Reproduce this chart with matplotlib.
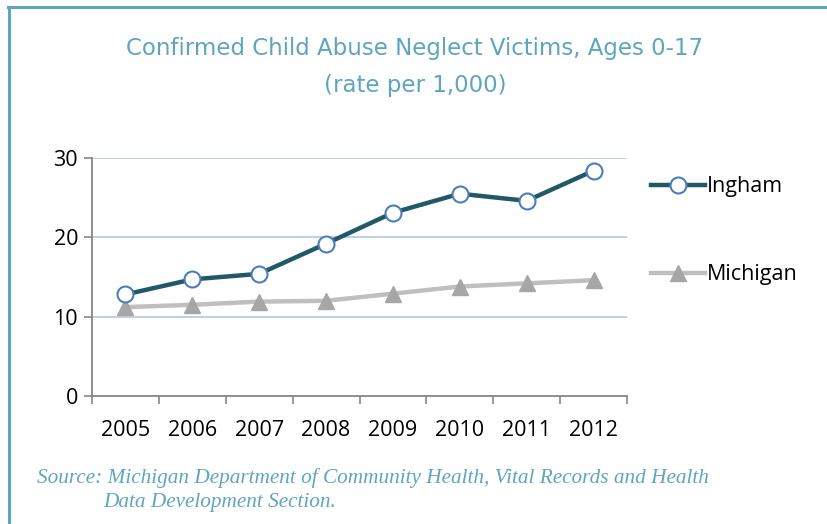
import matplotlib
matplotlib.use("Agg")
import matplotlib.pyplot as plt
from matplotlib.lines import Line2D

years = ["2005", "2006", "2007", "2008", "2009", "2010", "2011", "2012"]
ingham = [12.8, 14.7, 15.4, 19.2, 23.1, 25.5, 24.6, 28.4]
michigan = [11.2, 11.5, 11.9, 12.0, 12.9, 13.8, 14.2, 14.6]
yticks = [0, 10, 20, 30]

title = "Confirmed Child Abuse Neglect Victims, Ages 0-17\n(rate per 1,000)"
source1 = "Source: Michigan Department of Community Health, Vital Records and Health"
source2 = "Data Development Section."

W, H = 827, 524
fig = plt.figure(figsize=(W / 100, H / 100), dpi=100)
fig.patch.set_facecolor("white")

accent = "#5fa5c0"
# frame lines (top and left)
fig.add_artist(Line2D([8 / W, 1], [1 - 7 / H, 1 - 7 / H], color=accent, lw=2.2))
fig.add_artist(Line2D([9 / W, 9 / W], [0, 1 - 7 / H], color=accent, lw=2.2))

ax = fig.add_axes([92 / W, 1 - 396 / H, (627 - 92) / W, (396 - 158) / H])
x = list(range(len(years)))
ax.plot(x, michigan, color="#bfbfbf", lw=3.2, marker="^", ms=11.5,
        mfc="#a6a6a6", mec="#a6a6a6", label="Michigan", zorder=3)
ax.plot(x, ingham, color="#215968", lw=3.2, marker="o", ms=11.5,
        mfc="white", mec="#4a7ebb", mew=1.5, label="Ingham", zorder=4)

ax.set_xlim(-0.5, len(years) - 0.5)
ax.set_ylim(0, 30)
ax.set_yticks(yticks)
ax.set_yticklabels([str(v) for v in yticks])
ax.set_xticks(x)
ax.set_xticklabels(years)
ax.set_xticks([i - 0.5 for i in range(len(years) + 1)], minor=True)
ax.tick_params(axis="x", which="major", length=0, pad=17)
ax.tick_params(axis="x", which="minor", length=6, width=1.2, color="#868686")
ax.tick_params(axis="y", length=6, width=1.2, color="#868686", pad=4)
for lab in ax.get_xticklabels() + ax.get_yticklabels():
    lab.set_fontsize(15.5)
    lab.set_fontfamily("Open Sans")
    lab.set_color("black")
ax.grid(axis="y", color="#b9cde5", lw=1.3)
ax.set_axisbelow(True)
for s in ["top", "right"]:
    ax.spines[s].set_visible(False)
for s in ["left", "bottom"]:
    ax.spines[s].set_color("#868686")
    ax.spines[s].set_linewidth(1.3)

# legend entries
handles, labels = ax.get_legend_handles_labels()
leg = fig.legend(handles[::-1], labels[::-1], loc="upper left",
                 bbox_to_anchor=(632 / W, 1 - 157 / H), frameon=False,
                 prop={"family": "Open Sans", "size": 15.5}, labelspacing=3.1,
                 handlelength=2.5, handletextpad=0.1)

fig.text(415 / W, 1 - 67 / H, title, ha="center", va="center",
         fontsize=16.5, color=accent, family="DejaVu Sans", linespacing=1.8)
fig.text(37 / W, 1 - 478 / H, source1, ha="left", va="center",
         fontsize=15.3, color=accent, family="Liberation Serif", style="italic")
fig.text(103 / W, 1 - 502 / H, source2, ha="left", va="center",
         fontsize=15.3, color=accent, family="Liberation Serif", style="italic")

fig.savefig("out.png", dpi=100)
